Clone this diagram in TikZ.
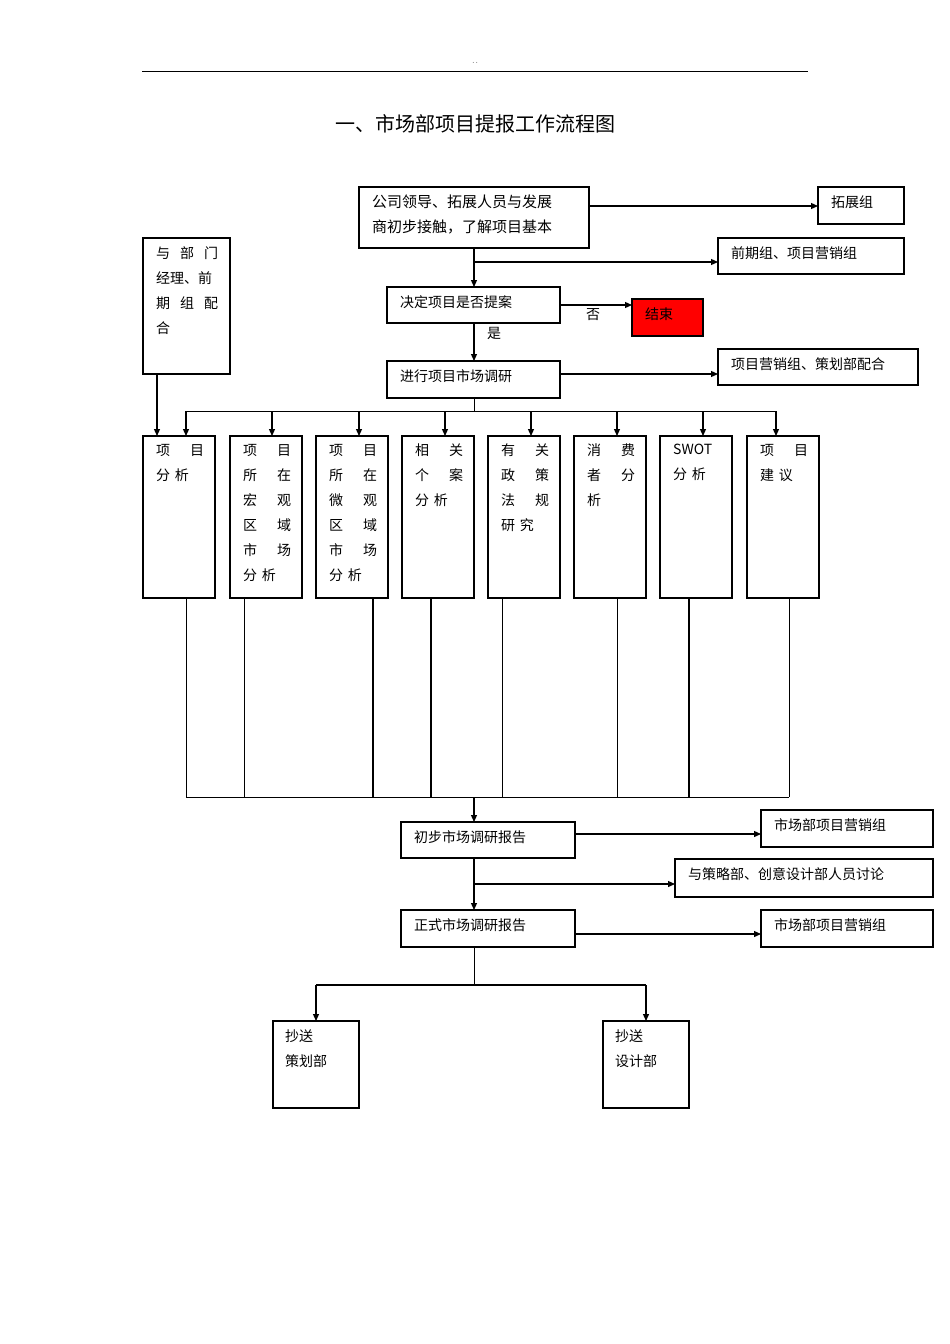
\documentclass[tikz,border=0pt]{standalone}
\usepackage{fontspec}
\setmainfont{Noto Sans CJK SC}
\usetikzlibrary{arrows.meta}
\begin{document}
\begin{tikzpicture}[x=1pt,y=-1pt,
  bx/.style={draw,line width=1.2pt},
  ar/.style={-{Triangle[length=7pt,width=6pt]},line width=1.2pt},
  ln/.style={line width=0.7pt},
  tx/.style={font=\fontsize{14}{25}\selectfont,anchor=north west,inner sep=0pt,align=left},
  col/.style={tx,text width=48pt}]
\useasboundingbox (0,0) rectangle (950,1344);
\draw[line width=0.8pt] (142,71) -- (808,71);
\node[font=\fontsize{7}{8}\selectfont] (dots) at (475,64) {‥};
\node[font=\fontsize{20}{24}\selectfont] (title) at (475,124) {一、市场部项目提报工作流程图};
% top chain
\draw[bx] (359,187) rectangle (589,248); \coordinate (top) at (474,248);
\node[tx,text width=215pt,font=\fontsize{15}{25}\selectfont] (t1) at (372,195) {公司领导、拓展人员与发展\\商初步接触，了解项目基本};
\draw[bx] (818,187) rectangle (904,224); \node[tx] (tz) at (831,196) {拓展组};
\coordinate (tzl) at (818,206); \coordinate (t1r) at (589,206);
\draw[ar] (t1r) -- (tzl);
\draw[bx] (718,238) rectangle (904,274); \node[tx] (qq) at (731,246) {前期组、项目营销组};
\coordinate (qql) at (718,262); \coordinate (b1) at (474,262);
\draw[ar] (b1) -- (qql);
\draw[bx] (387,287) rectangle (560,323); \node[tx] (jd) at (400,295) {决定项目是否提案};
\coordinate (jdt) at (474,287); \coordinate (jdb) at (474,323); \coordinate (jdr) at (560,305);
\draw[ar] (top) -- (jdt);
\draw[bx,fill=red] (632,299) rectangle (703,336); \node[tx] (js) at (645,308) {结束};
\coordinate (jsl) at (632,305);
\draw[ar] (jdr) -- (jsl);
\node[tx] (fou) at (586,308) {否};
\node[tx] (shi) at (487,327) {是};
\draw[bx] (387,361) rectangle (560,398); \node[tx] (jx) at (400,369) {进行项目市场调研};
\coordinate (jxt) at (474,361); \coordinate (jxr) at (560,374); \coordinate (jxb) at (474,398);
\draw[ar] (jdb) -- (jxt);
\draw[bx] (718,349) rectangle (918,385); \node[tx] (ch) at (731,357) {项目营销组、策划部配合};
\coordinate (chl) at (718,374);
\draw[ar] (jxr) -- (chl);
% left box
\draw[bx] (143,238) rectangle (230,374);
\node[tx,text width=62pt] (yb) at (156,246) {与\hfill 部\hfill 门\\经理、前\\期\hfill 组\hfill 配\\合};
\coordinate (ybb) at (157,374); \coordinate (ybe) at (157,436);
\draw[ar] (ybb) -- (ybe);
% distribution
\coordinate (d0) at (474,411);
\draw[ln] (jxb) -- (d0);
\draw[ln] (186,411) -- (776,411);
\foreach \x in {186,272,359,445,531,617,703,776}{
  \draw[ar] (\x,411) -- (\x,436);}
% column boxes
\foreach \l in {143,230,316,402,488,574,660,747}{
  \draw[bx] (\l,436) rectangle ++(72,162);}
\node[col] (c1) at (156,444) {项\hfill 目\\分 析};
\node[col] (c2) at (243,444) {项\hfill 目\\所\hfill 在\\宏\hfill 观\\区\hfill 域\\市\hfill 场\\分 析};
\node[col] (c3) at (329,444) {项\hfill 目\\所\hfill 在\\微\hfill 观\\区\hfill 域\\市\hfill 场\\分 析};
\node[col] (c4) at (415,444) {相\hfill 关\\个\hfill 案\\分 析};
\node[col] (c5) at (501,444) {有\hfill 关\\政\hfill 策\\法\hfill 规\\研 究};
\node[col] (c6) at (587,444) {消\hfill 费\\者\hfill 分\\析};
\node[col] (c7) at (673,444) {SWOT\\分 析};
\node[col] (c8) at (760,444) {项\hfill 目\\建 议};
% collection lines
\foreach \x in {186,244,502,617,789}{\draw[ln] (\x,598) -- (\x,797);}
\foreach \x in {373,431,689}{\draw[line width=1.6pt] (\x,598) -- (\x,797);}
\draw[ln] (186,797) -- (789,797);
\coordinate (m0) at (474,797);
% reports
\draw[bx] (401,822) rectangle (575,858); \node[tx] (cb) at (414,830) {初步市场调研报告};
\coordinate (cbt) at (474,822); \coordinate (cbr) at (575,834); \coordinate (cbb) at (474,858);
\draw[ar] (m0) -- (cbt);
\draw[bx] (761,810) rectangle (933,847); \node[tx] (s1) at (774,818) {市场部项目营销组};
\coordinate (s1l) at (761,834);
\draw[ar] (cbr) -- (s1l);
\draw[bx] (675,859) rectangle (933,897); \node[tx] (yc) at (688,867) {与策略部、创意设计部人员讨论};
\coordinate (ycl) at (675,884); \coordinate (b2) at (474,884);
\draw[ar] (b2) -- (ycl);
\draw[bx] (401,910) rectangle (575,947); \node[tx] (zs) at (414,918) {正式市场调研报告};
\coordinate (zst) at (474,910); \coordinate (zsr) at (575,934); \coordinate (zsb) at (474,947);
\draw[ar] (cbb) -- (zst);
\draw[bx] (761,910) rectangle (933,947); \node[tx] (s2) at (774,918) {市场部项目营销组};
\coordinate (s2l) at (761,934);
\draw[ar] (zsr) -- (s2l);
\coordinate (e0) at (474,985);
\draw[ln] (zsb) -- (e0);
\draw[line width=1.2pt] (316,985) -- (646,985);
\draw[ar] (316,985) -- (316,1021);
\draw[ar] (646,985) -- (646,1021);
\draw[bx] (273,1021) rectangle (359,1108); \node[tx] (p1) at (285,1030) {抄送\\策划部};
\draw[bx] (603,1021) rectangle (689,1108); \node[tx] (p2) at (615,1030) {抄送\\设计部};
\end{tikzpicture}
\end{document}
